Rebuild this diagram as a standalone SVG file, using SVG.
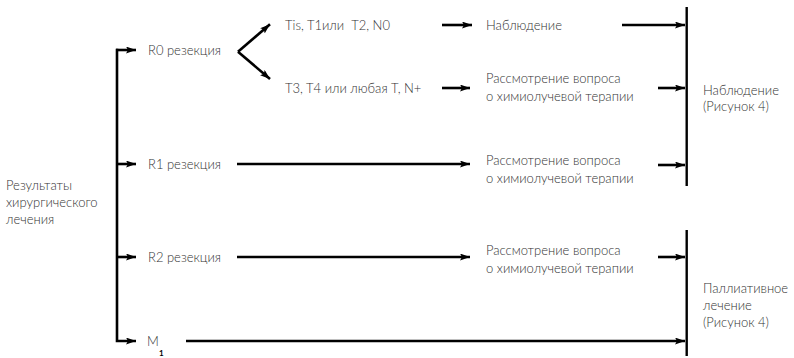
<svg xmlns="http://www.w3.org/2000/svg" width="794" height="358" viewBox="0 0 794 358">
  <style>
    .t { font-family: Lato, "Open Sans", "Liberation Sans", sans-serif; font-size: 13px; font-weight: 300; fill: #333; }
    .sub { font-size: 8px; font-weight: bold; fill: #000; }
    .ln { fill: none; stroke: #000; stroke-width: 2.6; stroke-linejoin: miter; }
    .bar { fill: none; stroke: #000; stroke-width: 2.4; }
  </style>
  <defs>
    <marker id="ah" markerUnits="userSpaceOnUse" markerWidth="12" markerHeight="8" refX="10" refY="3.5" orient="auto">
      <path d="M0,0 L10,3.5 L0,7 L2,3.5 Z" fill="#000"/>
    </marker>
  </defs>

  <!-- source node -->
  <g id="results">
    <text class="t" x="6" y="190">Результаты</text>
    <text class="t" x="6" y="207">хирургического</text>
    <text class="t" x="6" y="224">лечения</text>
  </g>

  <g id="r0">
    <text class="t" x="148" y="55">R0 резекция</text>
  </g>
  <g id="r1">
    <text class="t" x="148" y="169">R1 резекция</text>
  </g>
  <g id="r2">
    <text class="t" x="148" y="262">R2 резекция</text>
  </g>
  <g id="m1">
    <text class="t" x="147" y="346">M</text>
    <text class="t sub" x="159" y="356">1</text>
  </g>

  <g id="stage-low">
    <text class="t" x="285" y="30" xml:space="preserve">Tis, T1или  T2, N0</text>
  </g>
  <g id="stage-high">
    <text class="t" x="285" y="93">T3, T4 или любая T, N+</text>
  </g>

  <g id="observe">
    <text class="t" x="486" y="30">Наблюдение</text>
  </g>
  <g id="chemo-r0">
    <text class="t" x="486" y="83">Рассмотрение вопроса</text>
    <text class="t" x="486" y="101">о химиолучевой терапии</text>
  </g>
  <g id="chemo-r1">
    <text class="t" x="486" y="165">Рассмотрение вопроса</text>
    <text class="t" x="486" y="183">о химиолучевой терапии</text>
  </g>
  <g id="chemo-r2">
    <text class="t" x="486" y="255">Рассмотрение вопроса</text>
    <text class="t" x="486" y="273">о химиолучевой терапии</text>
  </g>

  <g id="outcome-observe">
    <text class="t" x="703" y="95">Наблюдение</text>
    <text class="t" x="703" y="111">(Рисунок 4)</text>
  </g>
  <g id="outcome-palliative">
    <text class="t" x="703" y="293">Паллиативное</text>
    <text class="t" x="703" y="310">лечение</text>
    <text class="t" x="703" y="327">(Рисунок 4)</text>
  </g>

  <g id="connectors">
    <!-- trunk and branches -->
    <path class="ln" d="M117,48.8 V341 H136" marker-end="url(#ah)"/>
    <path class="ln" d="M116,50 H136" marker-end="url(#ah)"/>
    <path class="ln" d="M117,164 H136" marker-end="url(#ah)"/>
    <path class="ln" d="M117,257 H136" marker-end="url(#ah)"/>

    <!-- R0 split -->
    <path class="ln" d="M238,51.7 L270,24.3" marker-end="url(#ah)"/>
    <path class="ln" d="M238,51.7 L270,79" marker-end="url(#ah)"/>

    <!-- R0 rows -->
    <path class="ln" d="M442,25 H472" marker-end="url(#ah)"/>
    <path class="ln" d="M622,25 H685" marker-end="url(#ah)"/>
    <path class="ln" d="M442,88 H470" marker-end="url(#ah)"/>
    <path class="ln" d="M658,88 H685" marker-end="url(#ah)"/>

    <!-- R1 row -->
    <path class="ln" d="M237,164 H470" marker-end="url(#ah)"/>
    <path class="ln" d="M658,165 H685" marker-end="url(#ah)"/>

    <!-- R2 row -->
    <path class="ln" d="M237,257 H470" marker-end="url(#ah)"/>
    <path class="ln" d="M658,257 H685" marker-end="url(#ah)"/>

    <!-- M1 row -->
    <path class="ln" d="M186,341 H685" marker-end="url(#ah)"/>

    <!-- outcome bars -->
    <path class="bar" d="M686.7,7 V186"/>
    <path class="bar" d="M686.7,230 V356"/>
  </g>
</svg>
